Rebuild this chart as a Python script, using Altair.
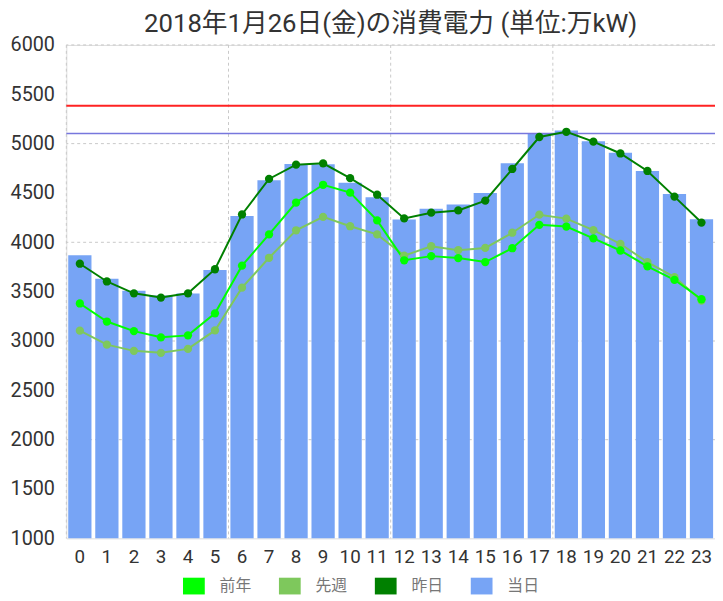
import altair as alt
import pandas as pd

hours = [str(h) for h in range(24)]

today = [3870, 3630, 3510, 3460, 3480, 3720, 4267, 4630, 4793, 4790, 4603, 4457,
         4232, 4340, 4383, 4500, 4800, 5100, 5133, 5023, 4907, 4723, 4490, 4233]
yesterday = [3783, 3603, 3483, 3440, 3483, 3727, 4282, 4642, 4787, 4800, 4650, 4482,
             4242, 4300, 4323, 4423, 4743, 5067, 5120, 5020, 4900, 4723, 4463, 4200]
last_year = [3380, 3197, 3100, 3037, 3057, 3280, 3763, 4080, 4403, 4583, 4503, 4222,
             3818, 3860, 3840, 3800, 3940, 4177, 4160, 4040, 3917, 3757, 3620, 3423]
last_week = [3105, 2963, 2900, 2880, 2920, 3107, 3540, 3843, 4122, 4258, 4163, 4080,
             3865, 3960, 3920, 3943, 4097, 4280, 4240, 4123, 3983, 3800, 3647, 3410]

series_names = ["前年", "先週", "昨日", "当日"]
series_colors = ["#00ff00", "#7ec85c", "#008000", "#77a4f5"]

red_limit = [5383]
blue_limit = [5103]
grid_values = [2000, 3000, 4000, 5000, 6000]
vgrid_hours = ["0", "6", "12", "18"]
y_ticks = list(range(1000, 6001, 500))

FONT = "Roboto, Noto Sans CJK JP, sans-serif"

bars_df = pd.DataFrame({"h": hours, "v": today, "s": "当日"})
lines_df = pd.concat([
    pd.DataFrame({"h": hours, "v": last_week, "s": "先週"}),
    pd.DataFrame({"h": hours, "v": last_year, "s": "前年"}),
    pd.DataFrame({"h": hours, "v": yesterday, "s": "昨日"}),
])

xscale = alt.Scale(domain=hours, paddingInner=0, paddingOuter=0)
yscale = alt.Scale(domain=[1000, 6000], zero=False, nice=False)
cscale = alt.Scale(domain=series_names, range=series_colors)

x_axis = alt.Axis(title=None, labelAngle=0, grid=False, ticks=False, domain=False,
                  labelFont=FONT, labelFontSize=19, labelColor="#333333",
                  labelPadding=9)
y_axis = alt.Axis(title=None, values=y_ticks, format="d", grid=False, ticks=False,
                  domain=False, labelFont=FONT, labelFontSize=20,
                  labelColor="#333333", labelPadding=12)

hgrid = alt.Chart(pd.DataFrame({"g": grid_values})).mark_rule(
    color="#c8c8c8", strokeDash=[3, 3], strokeWidth=1
).encode(y=alt.Y("g:Q", scale=yscale, axis=y_axis))

vgrid = alt.Chart(pd.DataFrame({"h": vgrid_hours})).mark_rule(
    color="#c8c8c8", strokeDash=[3, 3], strokeWidth=1
).encode(x=alt.X("h:O", scale=xscale, axis=x_axis, bandPosition=0))

bars = alt.Chart(bars_df).mark_bar(width={"band": 0.86}).encode(
    x=alt.X("h:O", scale=xscale, axis=x_axis),
    y=alt.Y("v:Q", scale=yscale, axis=y_axis),
    y2=alt.datum(1000),
    color=alt.Color("s:N", scale=cscale, legend=alt.Legend(
        title=None, orient="none", direction="horizontal",
        legendX=118, legendY=536, padding=0,
        symbolType="M-1,-0.77H1V0.77H-1Z", symbolSize=484, symbolStrokeWidth=0,
        symbolOpacity=1,
        labelFont=FONT, labelFontSize=16, labelColor="#777777",
        labelOffset=15, columnPadding=27,
    )),
)

red = alt.Chart(pd.DataFrame({"r": red_limit})).mark_rule(
    color="#ff2222", strokeWidth=2
).encode(y=alt.Y("r:Q", scale=yscale, axis=y_axis))

blue = alt.Chart(pd.DataFrame({"b": blue_limit})).mark_rule(
    color="#7777dd", strokeWidth=1.5
).encode(y=alt.Y("b:Q", scale=yscale, axis=y_axis))

lines = alt.Chart(lines_df).mark_line(
    strokeWidth=2, point=alt.OverlayMarkDef(size=70, filled=True, opacity=1)
).encode(
    x=alt.X("h:O", scale=xscale, axis=x_axis),
    y=alt.Y("v:Q", scale=yscale, axis=y_axis),
    color=alt.Color("s:N", scale=cscale, legend=None),
    detail="s:N",
)

chart = alt.layer(hgrid, vgrid, bars, red, blue, lines).properties(
    width=656, height=499,
    padding={"left": 59, "top": 34, "right": 0, "bottom": 60},
    autosize="none",
    title=alt.TitleParams(
        "2018年1月26日(金)の消費電力 (単位:万kW)",
        font=FONT, fontSize=26, fontWeight="normal", color="#333333",
        anchor="middle", offset=-2,
    ),
).configure_view(stroke=None).configure(background="white")

chart.save("out.html", embed_options={"renderer": "svg", "actions": False})
